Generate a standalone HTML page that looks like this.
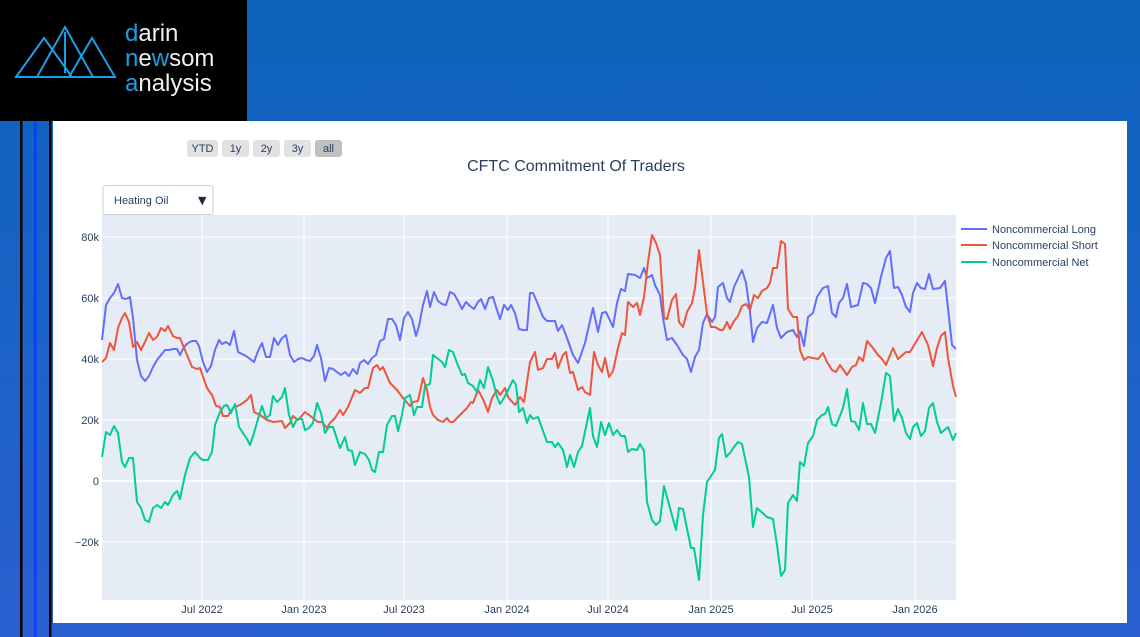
<!DOCTYPE html>
<html><head><meta charset="utf-8"><style>
html,body{margin:0;padding:0;width:1140px;height:637px;overflow:hidden}
body{background:linear-gradient(180deg,#0d63bb 0%,#1a62c6 50%,#2b5fd0 100%);position:relative;font-family:"Liberation Sans","DejaVu Sans",sans-serif}
</style></head><body>
<svg width="1140" height="637" viewBox="0 0 1140 637" style="position:absolute;left:0;top:0">
<rect x="0" y="0" width="247" height="121" fill="#000"/>
<g fill="none" stroke="#1a9ee8" stroke-width="2">
<polygon points="16,77 44,38 72,77"/>
<polygon points="37,77 65,27 93,77"/>
<polygon points="69,77 92,38 115,77"/>
<line x1="65" y1="32" x2="65" y2="73"/>
</g>
<g font-size="24" fill="#f0f0f0" style="font-weight:300">
<text x="125" y="41"><tspan fill="#1a9ee8">d</tspan>arin</text>
<text x="125" y="66"><tspan fill="#1a9ee8">n</tspan>e<tspan fill="#1a9ee8">w</tspan>som</text>
<text x="125" y="91"><tspan fill="#1a9ee8">a</tspan>nalysis</text>
</g>
<rect x="20" y="121" width="2.5" height="516" fill="#000"/>
<rect x="34" y="121" width="2.5" height="516" fill="#0a3cff"/>
<rect x="49" y="121" width="2.5" height="516" fill="#000"/>
<rect x="53" y="121" width="1074" height="502" fill="#fff"/>
<rect x="102" y="215" width="854" height="385" fill="#e5ecf6"/>
<g stroke="#fff" stroke-width="1">
<line x1="202" y1="215" x2="202" y2="600"/><line x1="304" y1="215" x2="304" y2="600"/>
<line x1="404" y1="215" x2="404" y2="600"/><line x1="507" y1="215" x2="507" y2="600"/>
<line x1="608" y1="215" x2="608" y2="600"/><line x1="711" y1="215" x2="711" y2="600"/>
<line x1="812" y1="215" x2="812" y2="600"/><line x1="915" y1="215" x2="915" y2="600"/>
<line x1="102" y1="237" x2="956" y2="237"/><line x1="102" y1="298" x2="956" y2="298"/>
<line x1="102" y1="359" x2="956" y2="359"/><line x1="102" y1="420" x2="956" y2="420"/>
<line x1="102" y1="542" x2="956" y2="542"/>
</g>
<line x1="102" y1="481" x2="956" y2="481" stroke="#fff" stroke-width="2"/>
<g font-size="11" fill="#2a3f5f" text-anchor="end">
<text x="99" y="241">80k</text><text x="99" y="302">60k</text><text x="99" y="363">40k</text>
<text x="99" y="424">20k</text><text x="99" y="485">0</text><text x="99" y="546">−20k</text>
</g>
<g font-size="11" fill="#2a3f5f" text-anchor="middle">
<text x="202" y="613">Jul 2022</text><text x="304" y="613">Jan 2023</text><text x="404" y="613">Jul 2023</text>
<text x="507" y="613">Jan 2024</text><text x="608" y="613">Jul 2024</text><text x="711" y="613">Jan 2025</text>
<text x="812" y="613">Jul 2025</text><text x="915" y="613">Jan 2026</text>
</g>
<text x="576" y="171" font-size="16" fill="#2a3f5f" text-anchor="middle">CFTC Commitment Of Traders</text>
<g font-size="11" fill="#2a3f5f" text-anchor="middle">
<rect x="187" y="140" width="31" height="17" rx="3" fill="#e2e2e2"/><text x="202.5" y="152">YTD</text>
<rect x="222" y="140" width="27" height="17" rx="3" fill="#e2e2e2"/><text x="235.5" y="152">1y</text>
<rect x="253" y="140" width="27" height="17" rx="3" fill="#e2e2e2"/><text x="266.5" y="152">2y</text>
<rect x="284" y="140" width="27" height="17" rx="3" fill="#e2e2e2"/><text x="297.5" y="152">3y</text>
<rect x="315" y="140" width="27" height="17" rx="3" fill="#c0c0c0"/><text x="328.5" y="152">all</text>
</g>
<rect x="103" y="185.5" width="110" height="29" rx="2" fill="#fff" stroke="#c8d0dc"/>
<text x="114" y="204" font-size="11" fill="#2a3f5f">Heating Oil</text>
<text x="198" y="204" font-size="11" fill="#1a2a40" font-family="DejaVu Sans">▼</text>
<g stroke-width="2" fill="none" stroke-linejoin="round">
<polyline stroke="#636efa" points="102,340 106,305 110,298 114,293 118,284 122,298 126,299 130,297 133,318 137,360 141,376 145,381 149,376 153,367 157,360 161,355 165,350 169,350 173,349 177,349 180,355 184,347 188,343 192,341 196,341 199,346 203,362 207,372 211,366 215,350 219,340 222,344 226,342 230,345 234,331 238,352 242,354 246,356 250,359 254,362 258,351 262,343 266,357 270,357 274,338 278,345 282,338 286,335 290,355 294,362 298,359 302,358 306,360 310,361 314,356 317,345 321,358 325,381 329,368 333,369 337,372 341,375 345,372 349,376 353,369 357,374 360,363 364,360 368,364 372,358 376,355 380,341 384,339 388,319 392,319 396,325 400,340 404,318 408,312 412,319 416,336 419,326 423,305 427,291 430,307 434,292 438,301 442,304 446,305 450,292 454,294 458,301 462,309 466,302 470,306 474,309 478,302 481,299 485,309 489,298 493,297 496,307 500,319 504,305 508,310 511,305 515,313 519,329 523,330 527,330 530,293 533,293 537,302 543,317 547,321 555,321 558,331 562,325 567,338 573,355 578,363 585,343 593,308 598,332 602,313 606,312 613,327 617,303 621,289 625,291 628,274 635,275 640,278 644,268 647,278 652,275 655,285 660,295 663,318 667,340 672,338 677,345 683,355 687,359 691,372 695,357 699,350 703,323 707,314 712,322 715,317 718,287 723,283 727,298 730,302 734,287 742,270 746,283 750,312 753,342 757,328 762,322 767,323 773,305 777,328 781,338 787,332 793,330 797,337 800,331 804,346 808,317 813,313 817,297 823,288 828,286 832,313 836,317 839,303 843,298 847,284 851,307 858,305 863,283 867,284 871,288 875,303 881,277 886,258 890,251 894,288 898,287 902,295 906,307 910,312 913,293 917,283 921,288 925,289 929,274 933,289 940,288 945,281 952,345 956,349"/>
<polyline stroke="#ef553b" points="102,362 106,358 110,343 114,350 118,328 122,318 125,313 129,322 133,347 137,342 141,350 145,342 149,333 153,340 157,337 161,328 165,331 168,326 173,336 177,338 180,338 185,350 192,367 197,369 200,368 207,388 212,395 216,406 220,407 223,416 228,416 233,408 240,405 247,400 251,395 254,412 260,415 267,420 273,422 282,421 285,428 290,423 293,416 298,420 305,412 313,418 318,422 322,422 327,428 330,423 335,418 340,410 343,415 348,407 355,390 360,393 365,388 368,388 373,368 377,365 380,370 383,367 390,383 397,390 403,398 410,406 413,402 418,401 423,378 427,390 430,407 433,415 438,420 443,422 447,418 450,422 453,422 460,415 467,408 471,402 473,403 478,390 483,399 488,412 492,398 497,390 500,395 505,388 508,397 515,405 520,397 524,402 530,362 535,352 538,370 543,368 547,359 552,359 555,353 558,368 563,355 566,352 570,373 573,372 578,390 582,387 585,392 590,395 594,352 598,365 602,372 605,358 609,377 613,371 618,348 622,333 625,335 628,302 633,307 637,303 640,315 644,297 648,262 652,235 656,243 660,255 664,318 667,319 672,300 676,294 679,322 683,327 687,312 692,303 695,288 699,250 703,282 707,314 711,327 715,327 720,330 723,330 727,322 730,329 734,321 738,316 742,306 746,304 750,310 754,295 758,298 762,291 767,288 770,283 773,268 777,268 781,241 785,244 788,309 793,317 797,317 800,350 804,360 808,357 813,358 818,359 823,353 827,362 832,370 836,372 840,365 847,375 852,367 856,365 859,357 863,361 867,341 873,348 878,355 882,359 886,365 893,348 898,359 906,352 910,352 922,332 928,345 933,366 937,348 941,336 945,332 948,358 953,386 956,397"/>
<polyline stroke="#00cc96" points="102,457 106,432 110,435 114,426 118,433 122,462 125,467 129,458 133,458 137,502 141,508 145,520 149,522 153,508 157,505 161,508 165,502 168,505 173,495 177,491 180,499 185,475 190,458 195,452 200,458 203,460 208,460 212,452 215,425 220,412 224,406 227,405 231,413 235,404 239,427 243,433 247,439 250,445 254,433 258,419 262,406 266,418 270,415 273,396 277,402 282,397 285,388 289,415 293,427 297,419 302,419 305,430 309,428 313,423 317,403 321,413 325,433 329,427 333,427 340,448 345,437 348,450 352,451 355,465 360,452 365,454 369,460 372,470 375,472 379,452 383,452 387,425 392,416 395,416 398,431 402,415 405,398 410,395 414,415 417,407 422,407 425,386 430,384 433,355 437,358 442,362 445,367 449,350 453,352 457,363 462,375 465,374 468,383 473,386 477,392 480,380 484,388 488,367 493,381 497,397 500,404 504,398 508,390 513,380 516,385 519,412 523,408 527,423 530,415 533,419 538,417 547,442 552,442 555,447 558,443 563,450 567,467 570,455 574,467 578,452 582,446 590,408 593,436 597,447 601,422 605,435 609,423 613,435 617,430 621,436 625,436 628,452 632,449 637,450 640,444 644,451 647,502 652,520 656,525 660,521 664,486 676,530 679,508 683,509 691,548 694,548 699,580 703,515 707,482 715,470 719,438 722,434 726,457 730,453 734,447 738,442 742,444 749,477 753,527 757,508 767,517 773,519 777,545 781,576 785,570 788,503 793,495 797,501 800,462 804,466 808,443 813,436 817,420 822,415 825,414 828,407 832,424 836,426 843,408 847,389 851,421 855,422 859,430 863,403 867,424 871,424 875,433 881,403 886,373 890,376 894,421 898,409 902,418 906,433 910,439 913,427 917,423 921,436 925,431 929,408 933,403 937,422 941,433 948,427 953,440 956,433"/>
</g>
<g stroke-width="2">
<line x1="961" y1="229" x2="987" y2="229" stroke="#636efa"/>
<line x1="961" y1="245" x2="987" y2="245" stroke="#ef553b"/>
<line x1="961" y1="262" x2="987" y2="262" stroke="#00cc96"/>
</g>
<g font-size="11" fill="#2a3f5f">
<text x="992" y="233">Noncommercial Long</text>
<text x="992" y="249">Noncommercial Short</text>
<text x="992" y="266">Noncommercial Net</text>
</g>
</svg>
</body></html>
